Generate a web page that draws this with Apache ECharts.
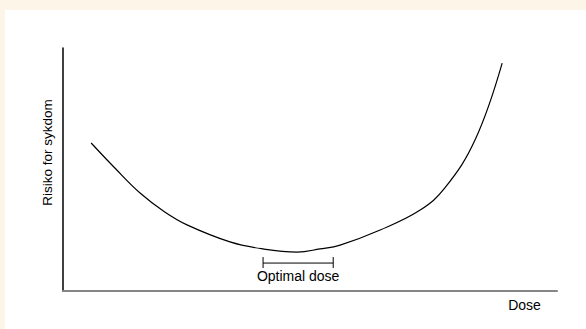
<!DOCTYPE html>
<html>
<head>
<meta charset="utf-8">
<script src="https://cdn.jsdelivr.net/npm/echarts@6/dist/echarts.min.js"></script>
<style>
    html, body { margin: 0; padding: 0; background: #fdf5e8; }
    #chart { position: absolute; left: 5px; top: 10px; width: 581px; height: 319px; background: #fff; }
</style>
</head>
<body>
<div id="chart"></div>
<script>
// dose (x) and risk (y), both on a 0-100 scale
const doseValues = [5.7, 10.5, 15.6, 20.6, 25.1, 33.8, 40.5, 47.4, 52.0, 56.1, 64.2, 72.3, 77.3, 83.4, 88.9];
const riskValues = [60.9, 50.6, 40.3, 32.5, 27.2, 20.2, 17.3, 16.0, 17.3, 18.9, 25.1, 33.3, 42.4, 62.1, 93.8];

// "Optimal dose" bracket: dose from / to, and the risk level it sits at
const optimalRange = [40.5, 54.7];
const optimalLevel = 11.5;

const xName = "Dose";
const yName = "Risiko for sykdom";
const bracketLabel = "Optimal dose";

const fontFamily = "Liberation Sans, Arial, sans-serif";

const chart = echarts.init(document.getElementById("chart"), null, { renderer: "svg" });

chart.setOption({
    animation: false,
    grid: { left: 58, right: 29, top: 38, bottom: 38 },
    xAxis: {
        type: "value",
        min: 0,
        max: 100,
        axisLine: { lineStyle: { color: "#858585", width: 2 } },
        axisTick: { show: false },
        axisLabel: { show: false },
        splitLine: { show: false },
    },
    yAxis: {
        type: "value",
        min: 0,
        max: 100,
        axisLine: { show: true, lineStyle: { color: "#000", width: 1.5 } },
        axisTick: { show: false },
        axisLabel: { show: false },
        splitLine: { show: false },
    },
    graphic: [
        {
            type: "text",
            x: 42.5,
            y: 142.5,
            rotation: Math.PI / 2,
            style: {
                text: yName,
                font: "13.5px " + fontFamily,
                fill: "#000",
                align: "center",
                verticalAlign: "middle",
            },
        },
        {
            type: "text",
            x: 519.5,
            y: 295,
            style: {
                text: xName,
                font: "14px " + fontFamily,
                fill: "#000",
                align: "center",
                verticalAlign: "middle",
            },
        },
    ],
    series: [
        {
            type: "line",
            data: doseValues.map((d, i) => [d, riskValues[i]]),
            smooth: 0.4,
            showSymbol: false,
            lineStyle: { color: "#000", width: 1.2 },
        },
        {
            type: "custom",
            data: [[optimalRange[0], optimalRange[1], optimalLevel]],
            encode: { x: [0, 1], y: 2 },
            renderItem: function (params, api) {
                const s = api.coord([api.value(0), api.value(2)]);
                const e = api.coord([api.value(1), api.value(2)]);
                const st = { stroke: "#000", lineWidth: 1 };
                return {
                    type: "group",
                    children: [
                        { type: "line", shape: { x1: s[0], y1: s[1], x2: e[0], y2: e[1] }, style: st },
                        { type: "line", shape: { x1: s[0], y1: s[1] - 6, x2: s[0], y2: s[1] + 5 }, style: st },
                        { type: "line", shape: { x1: e[0], y1: e[1] - 6, x2: e[0], y2: e[1] + 5 }, style: st },
                        {
                            type: "text",
                            x: (s[0] + e[0]) / 2,
                            y: s[1] + 12.5,
                            style: {
                                text: bracketLabel,
                                font: "14px " + fontFamily,
                                fill: "#000",
                                align: "center",
                                verticalAlign: "middle",
                            },
                        },
                    ],
                };
            },
        },
    ],
});
</script>
</body>
</html>
